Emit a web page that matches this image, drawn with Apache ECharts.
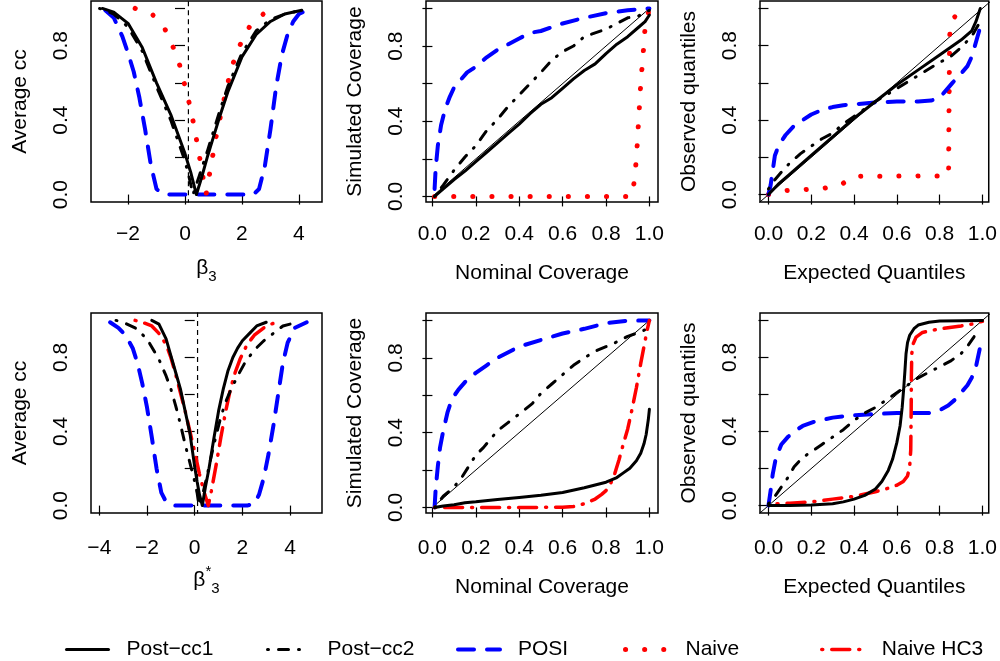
<!DOCTYPE html>
<html>
<head>
<meta charset="utf-8">
<script src="https://cdn.jsdelivr.net/npm/echarts@6/dist/echarts.min.js"></script>
<style>
html,body{margin:0;padding:0;background:#fff;}
#chart{width:1000px;height:661px;}
</style>
</head>
<body>
<div id="chart"></div>
<script>
// ---------- DATA ----------
// Panel 1: Average cc vs beta3
const p1_cc1 = [[-2.9,1.0],[-2.5,0.98],[-2.0,0.92],[-1.5,0.79],[-1.0,0.60],[-0.5,0.43],[0,0.22],[0.2,0.12],[0.4,0.0],[0.6,0.10],[0.8,0.21],[1.0,0.31],[1.2,0.41],[1.5,0.55],[2.0,0.74],[2.5,0.86],[3.0,0.93],[3.5,0.97],[4.1,0.99]];
const p1_cc2 = [[-3.0,1.0],[-2.5,0.97],[-2.0,0.90],[-1.5,0.77],[-1.0,0.58],[-0.5,0.40],[0,0.18],[0.15,0.09],[0.28,0.0],[0.5,0.10],[0.8,0.24],[1.0,0.34],[1.2,0.44],[1.5,0.58],[2.0,0.76],[2.5,0.88],[3.0,0.94],[3.5,0.97],[4.1,0.99]];
const p1_posi = [[-2.8,0.99],[-2.5,0.95],[-2.2,0.85],[-2.0,0.76],[-1.8,0.66],[-1.6,0.52],[-1.4,0.35],[-1.2,0.16],[-1.0,0.03],[-0.8,0.005],[-0.5,0.0],[2.4,0.0],[2.6,0.03],[2.8,0.15],[3.0,0.35],[3.2,0.58],[3.4,0.75],[3.6,0.86],[3.8,0.93],[4.0,0.97],[4.28,0.99]];
const p1_naive = [[-1.75,1.0],[-1.13,0.965],[-0.7,0.888],[-0.41,0.79],[-0.175,0.69],[-0.02,0.595],[0.15,0.49],[0.29,0.39],[0.41,0.29],[0.53,0.185],[0.64,0.084],[0.74,0.0],[0.85,0.10],[0.97,0.205],[1.09,0.31],[1.23,0.41],[1.37,0.51],[1.52,0.61],[1.70,0.71],[1.95,0.81],[2.26,0.90],[2.75,0.97],[2.95,0.985]];
// Panel 2: Simulated vs Nominal coverage
const p2_diag = [[0.01,0.01],[1,1]];
const p2_cc1 = [[0.01,0.0],[0.05,0.04],[0.1,0.09],[0.15,0.135],[0.2,0.185],[0.25,0.235],[0.3,0.285],[0.35,0.335],[0.4,0.385],[0.45,0.44],[0.5,0.49],[0.55,0.525],[0.6,0.575],[0.65,0.625],[0.7,0.67],[0.75,0.705],[0.8,0.76],[0.85,0.81],[0.9,0.85],[0.95,0.90],[0.98,0.93],[1.0,0.965]];
const p2_cc2 = [[0.01,0.0],[0.05,0.06],[0.1,0.14],[0.15,0.21],[0.2,0.27],[0.25,0.35],[0.3,0.41],[0.35,0.48],[0.4,0.54],[0.45,0.60],[0.5,0.66],[0.55,0.725],[0.6,0.77],[0.65,0.80],[0.7,0.85],[0.75,0.87],[0.8,0.89],[0.85,0.92],[0.9,0.95],[0.95,0.96],[1.0,0.99]];
const p2_posi = [[0.01,0.04],[0.015,0.15],[0.025,0.27],[0.04,0.38],[0.06,0.47],[0.08,0.53],[0.10,0.58],[0.13,0.62],[0.16,0.66],[0.20,0.69],[0.25,0.74],[0.30,0.78],[0.35,0.81],[0.40,0.84],[0.45,0.87],[0.50,0.88],[0.55,0.90],[0.60,0.92],[0.70,0.95],[0.80,0.975],[0.90,0.99],[1.0,1.0]];
const p2_naive = [[0.01,0.0],[0.5,0.0],[0.92,0.0],[0.93,0.08],[0.94,0.2],[0.945,0.3],[0.95,0.4],[0.955,0.5],[0.96,0.6],[0.967,0.7],[0.974,0.8],[0.98,0.9],[1.0,1.0]];
// Panel 3: Observed vs Expected quantiles
const p3_diag = [[-0.05,-0.05],[1.05,1.05]];
const p3_cc1 = [[0,0],[0.05,0.06],[0.1,0.11],[0.2,0.21],[0.3,0.31],[0.4,0.41],[0.5,0.5],[0.6,0.59],[0.7,0.67],[0.8,0.75],[0.85,0.79],[0.9,0.83],[0.95,0.88],[0.97,0.93],[0.99,1.0]];
const p3_cc2 = [[0,0.03],[0.03,0.08],[0.06,0.12],[0.1,0.17],[0.15,0.22],[0.2,0.26],[0.25,0.30],[0.3,0.33],[0.35,0.38],[0.4,0.42],[0.5,0.50],[0.6,0.57],[0.7,0.64],[0.8,0.71],[0.85,0.74],[0.9,0.79],[0.95,0.85],[0.98,0.91],[1.0,0.93]];
const p3_posi = [[0,0],[0.01,0.05],[0.02,0.13],[0.03,0.21],[0.05,0.27],[0.08,0.32],[0.12,0.37],[0.16,0.40],[0.2,0.43],[0.25,0.455],[0.3,0.47],[0.35,0.48],[0.4,0.485],[0.5,0.495],[0.6,0.50],[0.7,0.50],[0.76,0.505],[0.8,0.52],[0.83,0.56],[0.86,0.60],[0.9,0.65],[0.93,0.69],[0.95,0.74],[0.97,0.82],[0.99,0.90]];
const p3_naive = [[0,0],[0.085,0.022],[0.17,0.027],[0.26,0.034],[0.34,0.054],[0.40,0.098],[0.5,0.099],[0.6,0.099],[0.7,0.100],[0.8,0.100],[0.842,0.102],[0.843,0.3],[0.845,0.6],[0.847,0.85],[0.853,0.935],[0.88,0.965],[0.905,0.985]];
// Panel 4: Average cc vs beta3*
const p4_cc1 = [[-1.8,1.0],[-1.5,0.98],[-1.2,0.90],[-1.0,0.81],[-0.8,0.72],[-0.6,0.63],[-0.4,0.51],[-0.2,0.39],[0,0.21],[0.1,0.13],[0.2,0.06],[0.32,0.0],[0.45,0.10],[0.6,0.20],[0.8,0.36],[1.0,0.51],[1.2,0.63],[1.4,0.73],[1.6,0.80],[1.8,0.85],[2.0,0.89],[2.3,0.93],[2.6,0.97],[3.0,0.99]];
const p4_cc2 = [[-3.3,1.0],[-3.0,0.99],[-2.5,0.96],[-2.0,0.90],[-1.5,0.79],[-1.2,0.70],[-1.0,0.63],[-0.8,0.54],[-0.6,0.44],[-0.4,0.33],[-0.2,0.23],[0,0.13],[0.1,0.07],[0.18,0.0],[0.35,0.07],[0.5,0.15],[0.7,0.27],[0.9,0.38],[1.1,0.48],[1.3,0.56],[1.5,0.62],[1.8,0.70],[2.1,0.77],[2.5,0.84],[2.9,0.89],[3.3,0.93],[3.7,0.97],[4.0,0.98]];
const p4_posi = [[-3.55,0.99],[-3.2,0.96],[-2.9,0.92],[-2.6,0.85],[-2.4,0.77],[-2.2,0.66],[-2.0,0.53],[-1.8,0.37],[-1.6,0.20],[-1.4,0.07],[-1.2,0.02],[-1.0,0.005],[-0.8,0.0],[2.2,0.0],[2.5,0.01],[2.7,0.06],[2.9,0.15],[3.1,0.28],[3.3,0.43],[3.5,0.60],[3.7,0.77],[3.9,0.88],[4.2,0.96],[4.7,0.99]];
const p4_hc3 = [[-2.5,1.0],[-2.2,0.99],[-1.8,0.97],[-1.5,0.93],[-1.2,0.87],[-1.0,0.80],[-0.8,0.71],[-0.6,0.61],[-0.4,0.51],[-0.2,0.40],[0,0.29],[0.2,0.17],[0.4,0.07],[0.57,0.0],[0.7,0.08],[0.9,0.22],[1.1,0.37],[1.3,0.51],[1.5,0.63],[1.7,0.72],[1.9,0.79],[2.2,0.87],[2.5,0.92],[2.9,0.96],[3.2,0.98],[3.6,0.995]];
// Panel 5: Simulated vs Nominal coverage
const p5_diag = [[0.01,0.01],[1,1]];
const p5_cc1 = [[0.01,0.0],[0.05,0.008],[0.1,0.015],[0.15,0.025],[0.2,0.03],[0.3,0.043],[0.4,0.053],[0.5,0.065],[0.6,0.08],[0.7,0.105],[0.75,0.12],[0.8,0.135],[0.85,0.16],[0.88,0.185],[0.91,0.21],[0.94,0.25],[0.96,0.29],[0.975,0.34],[0.985,0.39],[0.995,0.47],[1.0,0.525]];
const p5_cc2 = [[0.01,0.0],[0.05,0.06],[0.1,0.11],[0.135,0.16],[0.2,0.28],[0.235,0.32],[0.3,0.41],[0.35,0.455],[0.4,0.50],[0.46,0.555],[0.5,0.61],[0.55,0.66],[0.6,0.71],[0.65,0.76],[0.7,0.80],[0.75,0.835],[0.8,0.86],[0.85,0.885],[0.9,0.915],[0.95,0.935],[1.0,0.96]];
const p5_posi = [[0.01,0.0],[0.015,0.1],[0.025,0.22],[0.035,0.32],[0.05,0.41],[0.07,0.51],[0.09,0.58],[0.12,0.63],[0.15,0.67],[0.2,0.72],[0.25,0.76],[0.3,0.80],[0.35,0.83],[0.4,0.86],[0.5,0.895],[0.6,0.93],[0.7,0.955],[0.8,0.985],[0.9,0.998],[1.0,1.0]];
const p5_hc3 = [[0.01,0.0],[0.2,0.0],[0.4,0.0],[0.6,0.001],[0.65,0.005],[0.7,0.02],[0.75,0.045],[0.78,0.07],[0.8,0.09],[0.82,0.125],[0.84,0.18],[0.86,0.255],[0.88,0.34],[0.9,0.42],[0.92,0.525],[0.94,0.64],[0.96,0.77],[0.98,0.89],[0.99,0.95],[1.0,1.0]];
// Panel 6: Observed vs Expected quantiles
const p6_diag = [[-0.05,-0.05],[1.05,1.05]];
const p6_cc1 = [[0,0.0],[0.1,0.0],[0.2,0.003],[0.3,0.01],[0.35,0.02],[0.4,0.035],[0.45,0.055],[0.5,0.09],[0.53,0.13],[0.56,0.19],[0.58,0.25],[0.6,0.34],[0.615,0.43],[0.625,0.53],[0.632,0.63],[0.638,0.73],[0.643,0.82],[0.65,0.88],[0.66,0.92],[0.68,0.955],[0.7,0.975],[0.75,0.99],[0.8,0.997],[1.0,1.0]];
const p6_cc2 = [[0,0.01],[0.03,0.05],[0.06,0.10],[0.09,0.15],[0.12,0.21],[0.16,0.26],[0.2,0.29],[0.25,0.33],[0.3,0.37],[0.35,0.41],[0.4,0.46],[0.45,0.50],[0.5,0.53],[0.55,0.57],[0.6,0.61],[0.65,0.65],[0.7,0.69],[0.75,0.72],[0.8,0.75],[0.85,0.78],[0.9,0.82],[0.93,0.86],[0.96,0.91],[0.98,0.95]];
const p6_posi = [[0,0.0],[0.01,0.08],[0.02,0.17],[0.035,0.26],[0.06,0.33],[0.09,0.37],[0.12,0.40],[0.16,0.43],[0.22,0.455],[0.3,0.475],[0.4,0.488],[0.5,0.495],[0.6,0.50],[0.75,0.50],[0.8,0.515],[0.84,0.54],[0.87,0.57],[0.9,0.61],[0.93,0.65],[0.95,0.69],[0.97,0.75],[0.99,0.86]];
const p6_hc3 = [[0.04,0.01],[0.1,0.013],[0.2,0.02],[0.3,0.035],[0.4,0.05],[0.5,0.075],[0.55,0.09],[0.6,0.11],[0.63,0.13],[0.65,0.16],[0.66,0.21],[0.665,0.3],[0.667,0.5],[0.668,0.7],[0.67,0.82],[0.675,0.87],[0.69,0.91],[0.72,0.935],[0.8,0.955],[0.9,0.97],[0.95,0.98],[1.0,0.995]];
// vertical reference at beta
const vline_x = 0.12;
const vline = [[vline_x,-0.1],[vline_x,1.1]];

// axis tick labels
const ticksBeta1 = [-2,0,2,4];
const ticksBeta2 = [-4,-2,0,2,4];
const ticksUnitX = [0,0.2,0.4,0.6,0.8,1.0];
const ticksUnitY = [0,0.2,0.4,0.6,0.8,1.0];
const labelsUnitY = [0,0.4,0.8];
const legendNames = ['Post\u2212cc1','Post\u2212cc2','POSI','Naive','Naive HC3'];
const xTitles = ['{b|\u03b2}{s|3}','Nominal Coverage','Expected Quantiles','{b|\u03b2}{p|*}{s|3}','Nominal Coverage','Expected Quantiles'];
const yTitles = ['Average cc','Simulated Coverage','Observed quantiles','Average cc','Simulated Coverage','Observed quantiles'];

// ---------- LAYOUT / STYLE ----------
const FONT = 'Liberation Sans, Arial, sans-serif';
const FS = 21;
const gridPos = [
  {left:91, top:1, width:231, height:201},
  {left:426, top:1, width:232, height:201},
  {left:760, top:1, width:232, height:201},
  {left:91, top:313, width:231, height:200},
  {left:426, top:313, width:232, height:200},
  {left:760, top:313, width:232, height:200}
];
const xRange = [[-3.3,4.81],[-0.0296,1.0396],[-0.0396,1.0296],[-4.35,5.34],[-0.0296,1.0396],[-0.0396,1.0296]];
const yRange = [[-0.04,1.04],[-0.0296,1.0396],[-0.04,1.04],[-0.04,1.04],[-0.0296,1.0396],[-0.04,1.04]];
const xTicks = [ticksBeta1,ticksUnitX,ticksUnitX,ticksBeta2,ticksUnitX,ticksUnitX];
const xLabelMargin = [22,22,22,25,25,25];
const xNameGap = [50,61,61,51,64,64];

const styles = {
  'Post\u2212cc1': {color:'#000000', width:3, type:'solid', cap:'round'},
  'Post\u2212cc2': {color:'#000000', width:3, type:[1,10,10,10], cap:'round'},
  'POSI': {color:'#0000ff', width:4, type:[16,13], cap:'round'},
  'Naive': {color:'#ff0000', width:5, type:[0.1,19], cap:'round'},
  'Naive HC3': {color:'#ff0000', width:3.5, type:[1,9,18,9], cap:'round'},
  'ref': {color:'#000000', width:1, type:'solid'},
  'vref': {color:'#000000', width:1.2, type:[5,4]}
};

const fmtBeta = v => (v < 0 ? '\u2212' : '') + Math.abs(v);
const fmtUnit = v => v.toFixed(1);

const grid = gridPos.map(g => Object.assign({show:true, borderColor:'#000', borderWidth:1.5, backgroundColor:'transparent', containLabel:false}, g));

const xAxis = gridPos.map((g,i) => ({
  type:'value', gridIndex:i, min:xRange[i][0], max:xRange[i][1],
  axisLine:{show:false},
  axisTick:{show:true, length:10, lineStyle:{color:'#000', width:1.2}, customValues:xTicks[i]},
  axisLabel:{show:true, color:'#000', fontSize:FS, fontFamily:FONT, margin:xLabelMargin[i], customValues:xTicks[i],
             formatter:(i===0||i===3)?fmtBeta:fmtUnit},
  splitLine:{show:false},
  name:xTitles[i], nameLocation:'middle', nameGap:xNameGap[i],
  nameTextStyle:{color:'#000', fontSize:FS, fontFamily:FONT,
    rich:{b:{fontSize:FS, fontFamily:FONT, color:'#000', lineHeight:32, verticalAlign:'middle'},
          s:{fontSize:15, fontFamily:FONT, color:'#000', lineHeight:14, verticalAlign:'bottom'},
          p:{fontSize:15, fontFamily:FONT, color:'#000', lineHeight:14, verticalAlign:'top'}}}
}));
const yAxis = gridPos.map((g,i) => ({
  type:'value', gridIndex:i, min:yRange[i][0], max:yRange[i][1],
  axisLine:{show:false},
  axisTick:{show:true, length:10, lineStyle:{color:'#000', width:1.2}, customValues:ticksUnitY},
  axisLabel:{show:true, color:'#000', fontSize:FS, fontFamily:FONT, margin:19, rotate:90, customValues:labelsUnitY, formatter:fmtUnit},
  splitLine:{show:false},
  name:yTitles[i], nameLocation:'middle', nameRotate:90, nameGap:60,
  nameTextStyle:{color:'#000', fontSize:FS, fontFamily:FONT}
}));

function mk(name, data, gi, legendName){
  const st = styles[name];
  return {
    type:'line', name: legendName || name, data:data, xAxisIndex:gi, yAxisIndex:gi,
    symbol:'none', showSymbol:false, smooth:false, clip:true, silent:true,
    itemStyle:{color:st.color},
    lineStyle:{color:st.color, width:st.width, type:st.type, cap:st.cap||'butt', join:'round'}
  };
}
const C1='Post\u2212cc1', C2='Post\u2212cc2', PO='POSI', NA='Naive', HC='Naive HC3';
const series = [
  mk('vref', vline, 0, 'vref0'), mk(PO, p1_posi, 0), mk(NA, p1_naive, 0), mk(C2, p1_cc2, 0), mk(C1, p1_cc1, 0),
  mk('ref', p2_diag, 1, 'ref1'), mk(NA, p2_naive, 1), mk(PO, p2_posi, 1), mk(C2, p2_cc2, 1), mk(C1, p2_cc1, 1),
  mk('ref', p3_diag, 2, 'ref2'), mk(NA, p3_naive, 2), mk(PO, p3_posi, 2), mk(C2, p3_cc2, 2), mk(C1, p3_cc1, 2),
  mk('vref', vline, 3, 'vref3'), mk(PO, p4_posi, 3), mk(HC, p4_hc3, 3), mk(C2, p4_cc2, 3), mk(C1, p4_cc1, 3),
  mk('ref', p5_diag, 4, 'ref4'), mk(PO, p5_posi, 4), mk(C2, p5_cc2, 4), mk(HC, p5_hc3, 4), mk(C1, p5_cc1, 4),
  mk('ref', p6_diag, 5, 'ref5'), mk(PO, p6_posi, 5), mk(C2, p6_cc2, 5), mk(HC, p6_hc3, 5), mk(C1, p6_cc1, 5)
];

const legendLeft = [65, 266, 456, 623, 820];
const legend = legendNames.map((n,i) => {
  const st = styles[n];
  return {
    data:[n], left:legendLeft[i], top:639, padding:0, itemWidth:42, itemHeight:14, itemGap:0,
    selectedMode:false,
    itemStyle:{opacity:0, color:'transparent', borderWidth:0},
    lineStyle:{color:st.color, width:st.width, type:st.type, cap:st.cap, opacity:1},
    textStyle:{color:'#000', fontSize:FS, fontFamily:FONT, padding:[0,0,0,13]}
  };
});

const chart = echarts.init(document.getElementById('chart'), null, {renderer:'canvas'});
chart.setOption({
  animation:false,
  backgroundColor:'#ffffff',
  textStyle:{fontFamily:FONT},
  grid:grid, xAxis:xAxis, yAxis:yAxis, legend:legend, series:series
});
</script>
</body>
</html>
